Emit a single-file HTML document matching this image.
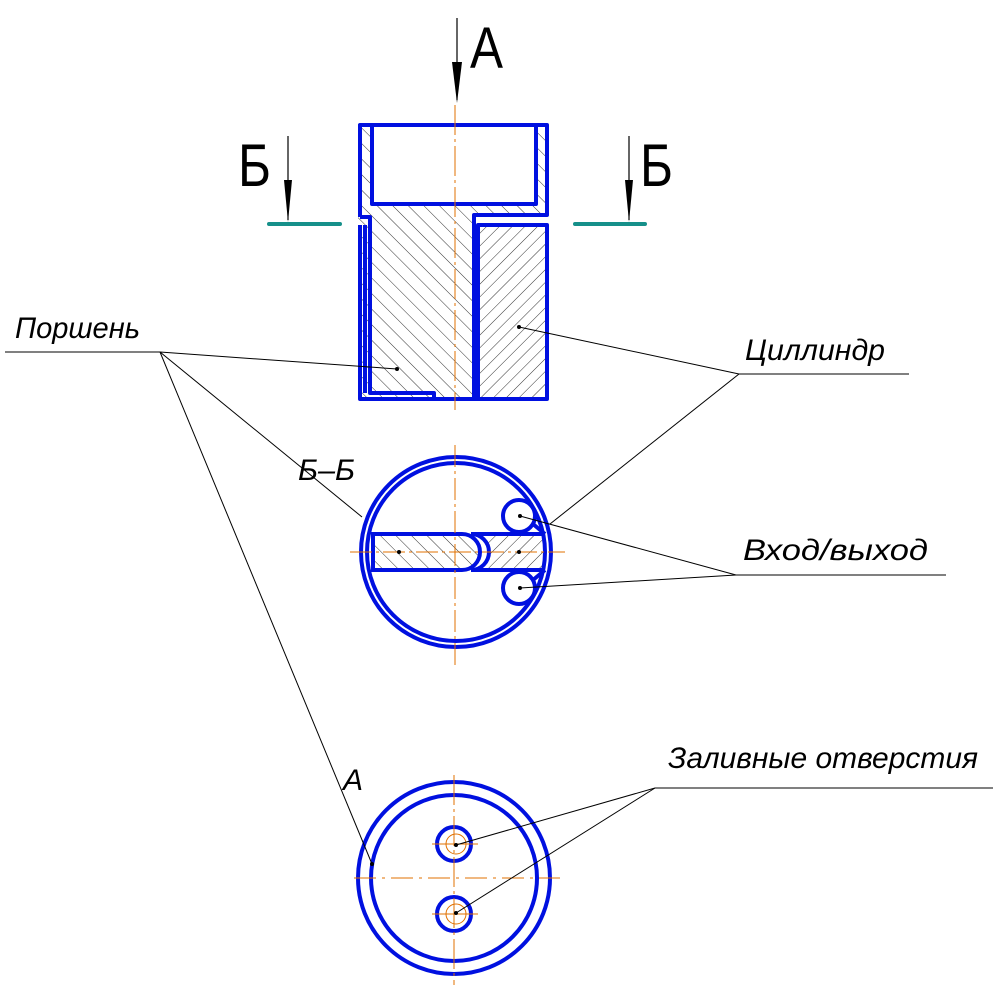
<!DOCTYPE html>
<html><head><meta charset="utf-8"><style>
html,body{margin:0;padding:0;background:#fff;}
svg{display:block}
text{font-family:"Liberation Sans",sans-serif;}
</style></head><body>
<svg width="997" height="987" viewBox="0 0 997 987" xmlns="http://www.w3.org/2000/svg">
<defs>
<pattern id="hb" patternUnits="userSpaceOnUse" width="11" height="11" patternTransform="rotate(-45)">
<line x1="0" y1="0" x2="0" y2="11" stroke="#000" stroke-width="0.8"/></pattern>
<pattern id="hf" patternUnits="userSpaceOnUse" width="9" height="9" patternTransform="rotate(45)">
<line x1="0" y1="0" x2="0" y2="9" stroke="#000" stroke-width="0.8"/></pattern>
</defs>

<path d="M358,123 H548 V215 H472 V400 H358 Z" fill="url(#hb)"/>
<rect x="370" y="123" width="167" height="81" fill="#fff"/>
<rect x="477" y="225" width="71" height="175" fill="url(#hf)"/>
<g fill="none" stroke="#0010e0" stroke-width="4" stroke-linejoin="round">
<path d="M360,217 V125 H547 V215 H474 V400"/>
<path d="M360,217 H370 V393 H434 V399"/>
<rect x="372" y="125" width="164" height="79"/>
<path d="M360,225 V399 H547 V225 H478 V399"/>
<path d="M365,225 V393"/>
</g>
<line x1="455" y1="105" x2="455" y2="410" stroke="#e07000" stroke-width="1" stroke-dasharray="30,4,3,4"/>

<line x1="457" y1="18" x2="457" y2="100" stroke="#000" stroke-width="1.2"/>
<polygon points="452,62 462,62 457,103" fill="#000"/>
<text x="470" y="68" font-size="58" textLength="33" lengthAdjust="spacingAndGlyphs">А</text>
<line x1="288" y1="136" x2="288" y2="220" stroke="#000" stroke-width="1.2"/>
<polygon points="284,180 292,180 288,222" fill="#000"/>
<line x1="269" y1="224" x2="340" y2="224" stroke="#16908a" stroke-width="4" stroke-linecap="round"/>
<text x="238" y="186" font-size="60" textLength="33" lengthAdjust="spacingAndGlyphs">Б</text>
<line x1="629" y1="136" x2="629" y2="220" stroke="#000" stroke-width="1.2"/>
<polygon points="625,180 633,180 629,222" fill="#000"/>
<line x1="575" y1="224" x2="645" y2="224" stroke="#16908a" stroke-width="4" stroke-linecap="round"/>
<text x="640" y="186" font-size="60" textLength="33" lengthAdjust="spacingAndGlyphs">Б</text>

<!-- section Б-Б -->
<path d="M373,534 H462 A18,18 0 0 1 462,570 H373 Z" fill="url(#hb)"/>
<path d="M471,534 H545 V570 H471 A18,18 0 0 0 471,534 Z" fill="url(#hf)"/>
<g fill="none" stroke="#0010e0" stroke-width="4">
<circle cx="456" cy="552" r="95"/>
<circle cx="456" cy="552" r="89"/>
<path d="M373,534 H462 A18,18 0 0 1 462,570 H373 Z"/>
<path d="M471,534 H545 M471,570 H545 M471,534 A18,18 0 0 1 471,570"/>
<circle cx="519" cy="516" r="16"/>
<circle cx="519" cy="588" r="16"/>
<path d="M533,524 L545,534 M533,580 L545,570"/>
</g>
<line x1="455" y1="445" x2="455" y2="665" stroke="#e07000" stroke-width="1" stroke-dasharray="22,4,3,4"/>
<line x1="350" y1="552" x2="565" y2="552" stroke="#e07000" stroke-width="1" stroke-dasharray="22,4,3,4"/>
<text x="298" y="480" font-size="30" font-style="italic" textLength="57" lengthAdjust="spacingAndGlyphs">Б–Б</text>

<g fill="none" stroke="#0010e0" stroke-width="4">
<circle cx="454" cy="878" r="96"/>
<circle cx="454" cy="878" r="83"/>
<circle cx="454" cy="844" r="17"/>
<circle cx="454" cy="914" r="17"/>
</g>
<g stroke="#e07000" stroke-width="1" fill="none">
<line x1="454" y1="775" x2="454" y2="985" stroke-dasharray="30,4,3,4"/>
<line x1="354" y1="878" x2="560" y2="878" stroke-dasharray="22,6,3,6"/>
<line x1="432" y1="844" x2="478" y2="844"/><line x1="432" y1="914" x2="478" y2="914"/>
<circle cx="456" cy="844" r="10"/><circle cx="456" cy="914" r="10"/>
</g>
<text x="343" y="790" font-size="30" font-style="italic">А</text>

<g stroke="#000" stroke-width="1" fill="none">
<line x1="5" y1="352" x2="160" y2="352"/>
<line x1="160" y1="352" x2="397" y2="369"/>
<line x1="160" y1="352" x2="362" y2="517"/>
<line x1="160" y1="352" x2="372" y2="864"/>
<line x1="739" y1="374" x2="909" y2="374"/>
<line x1="739" y1="374" x2="519" y2="327"/>
<line x1="739" y1="374" x2="550" y2="524"/>
<line x1="736" y1="575" x2="946" y2="575"/>
<line x1="736" y1="575" x2="520" y2="516"/>
<line x1="736" y1="575" x2="520" y2="588"/>
<line x1="655" y1="788" x2="993" y2="788"/>
<line x1="655" y1="788" x2="456" y2="845"/>
<line x1="655" y1="788" x2="456" y2="913"/>
</g>
<g fill="#000"><circle cx="397" cy="369" r="2"/><circle cx="519" cy="327" r="2"/><circle cx="399" cy="552" r="2"/><circle cx="519" cy="552" r="2"/><circle cx="520" cy="516" r="2"/><circle cx="520" cy="588" r="2"/><circle cx="372" cy="864" r="2"/><circle cx="456" cy="845" r="2"/><circle cx="456" cy="913" r="2"/></g>
<g font-style="italic" font-size="30">
<text x="15" y="338" textLength="125" lengthAdjust="spacingAndGlyphs">Поршень</text>
<text x="745" y="360" textLength="140" lengthAdjust="spacingAndGlyphs">Циллиндр</text>
<text x="743" y="560" textLength="185" lengthAdjust="spacingAndGlyphs">Вход/выход</text>
<text x="668" y="768" textLength="310" lengthAdjust="spacingAndGlyphs">Заливные отверстия</text>
</g>
</svg>
</body></html>
